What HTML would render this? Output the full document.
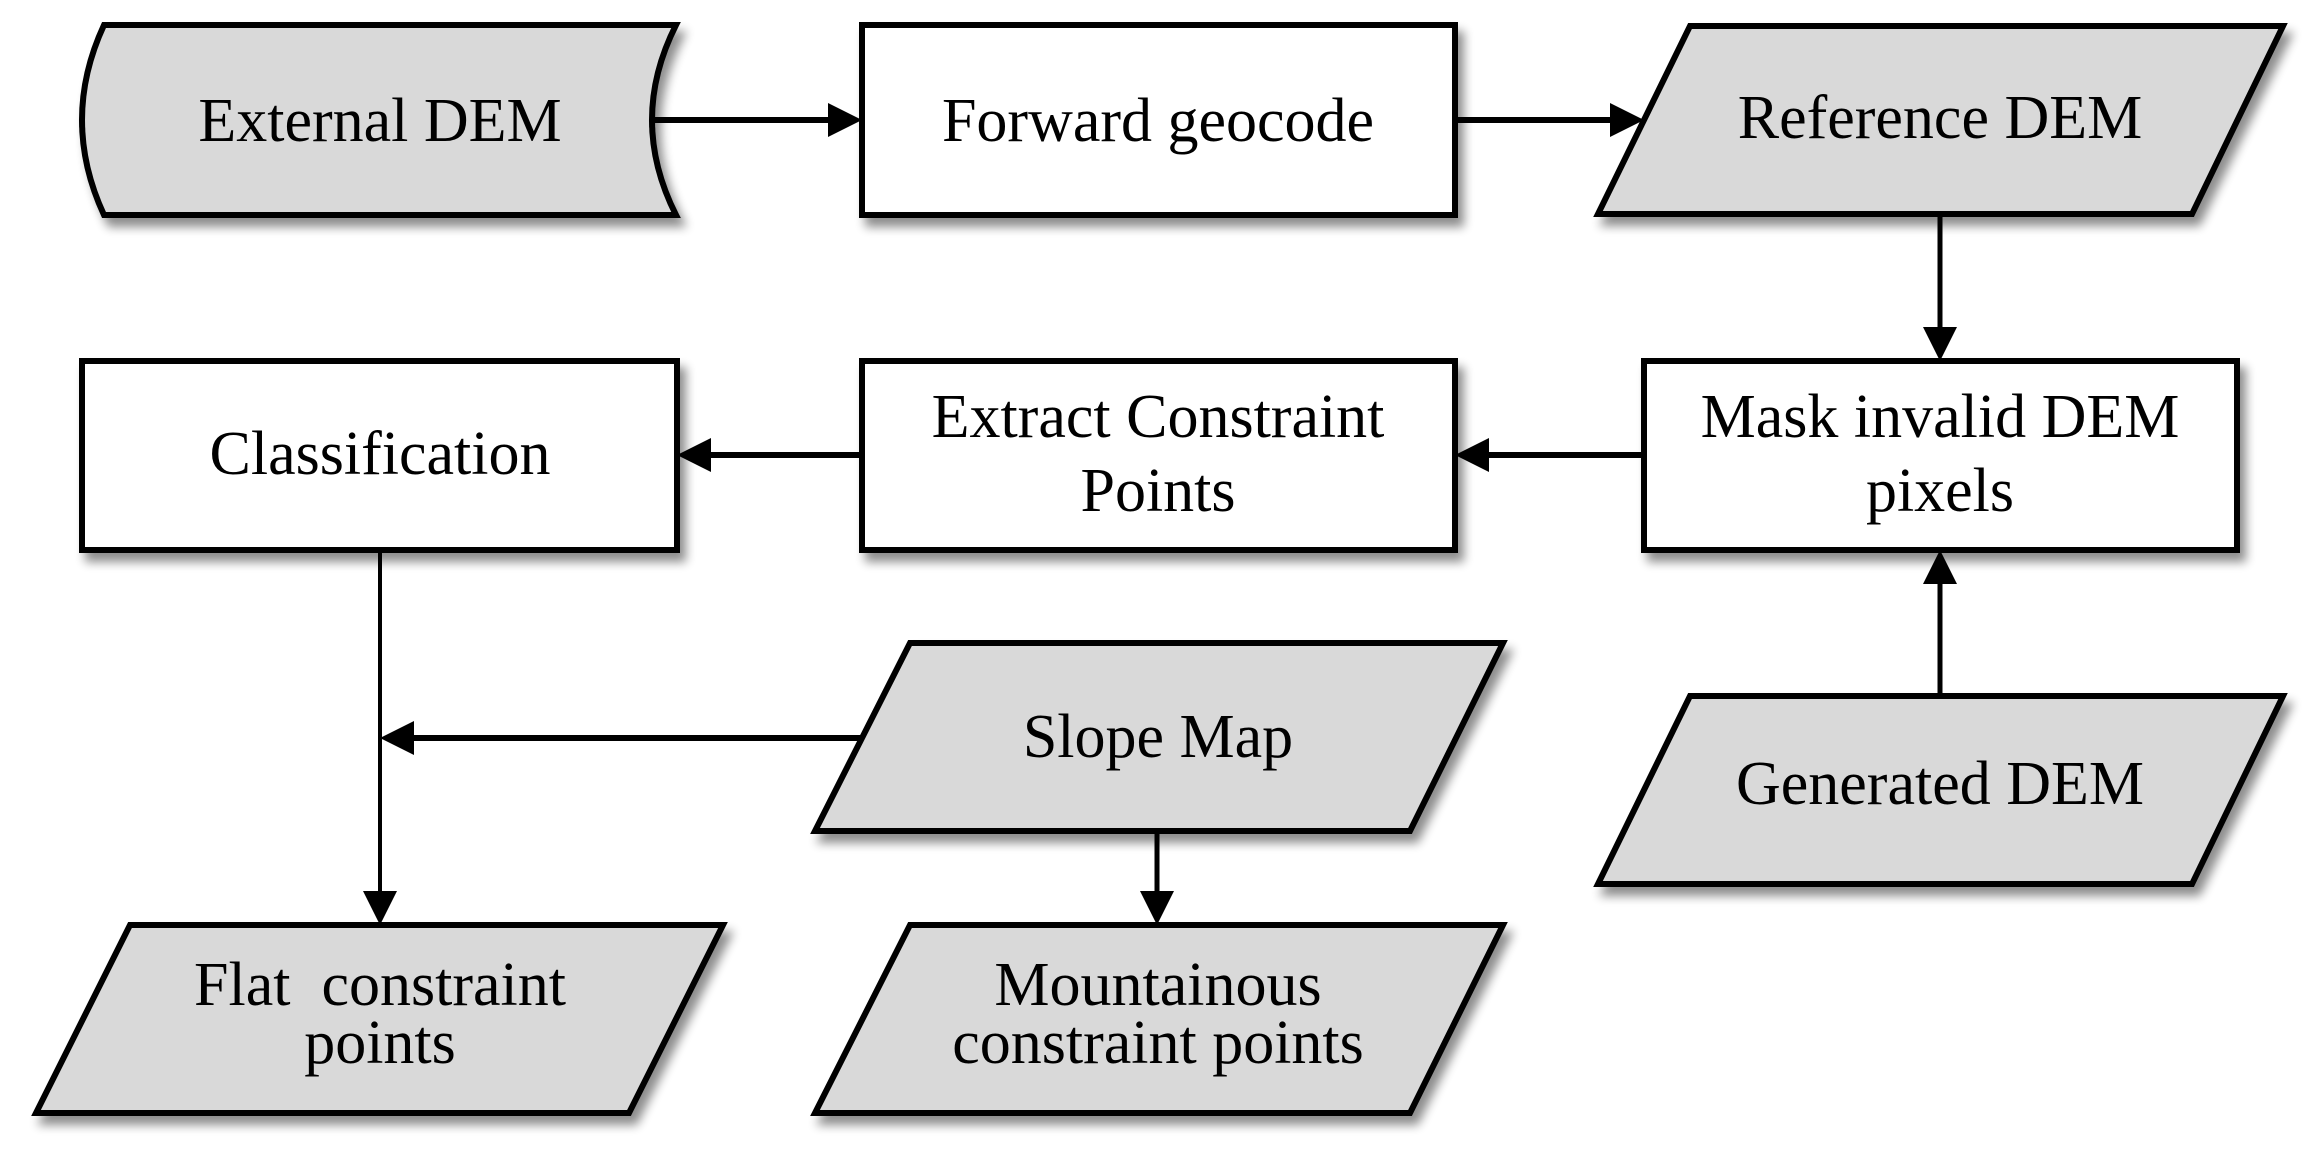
<!DOCTYPE html>
<html><head><meta charset="utf-8"><style>html,body{margin:0;padding:0;background:#fff}svg{display:block}</style></head><body>
<svg width="2324" height="1155" viewBox="0 0 2324 1155" xmlns="http://www.w3.org/2000/svg">
<defs>
<filter id="sh" x="-10%" y="-10%" width="130%" height="140%"><feGaussianBlur in="SourceAlpha" stdDeviation="5"/><feOffset dx="6" dy="9"/><feComponentTransfer><feFuncA type="linear" slope="0.45"/></feComponentTransfer><feMerge><feMergeNode/><feMergeNode in="SourceGraphic"/></feMerge></filter>
</defs>
<g stroke="#000" stroke-width="6" stroke-linejoin="miter" filter="url(#sh)">
<path d="M104,25 L676,25 Q628,120 676,215 L104,215 Q60,120 104,25 Z" fill="#d9d9d9"/>
<rect x="862" y="25" width="593" height="190" fill="#fff"/>
<path d="M1690,26 L2283,26 L2192,214 L1598,214 Z" fill="#d9d9d9"/>
<rect x="82" y="361" width="595" height="189" fill="#fff"/>
<rect x="862" y="361" width="593" height="189" fill="#fff"/>
<rect x="1644" y="361" width="593" height="189" fill="#fff"/>
<path d="M910,643 L1503,643 L1410,831 L815,831 Z" fill="#d9d9d9"/>
<path d="M1690,696 L2283,696 L2192,884 L1598,884 Z" fill="#d9d9d9"/>
<path d="M130,925 L723,925 L629,1113 L36,1113 Z" fill="#d9d9d9"/>
<path d="M910,925 L1503,925 L1410,1113 L815,1113 Z" fill="#d9d9d9"/>
</g>
<g stroke="#000" fill="none">
<line x1="652" y1="120" x2="830" y2="120" stroke-width="6"/>
<line x1="1455" y1="120" x2="1612" y2="120" stroke-width="6"/>
<line x1="1940" y1="214" x2="1940" y2="328" stroke-width="5"/>
<line x1="1644" y1="455" x2="1488" y2="455" stroke-width="6"/>
<line x1="862" y1="455" x2="710" y2="455" stroke-width="6"/>
<line x1="1940" y1="696" x2="1940" y2="582" stroke-width="5"/>
<line x1="380" y1="550" x2="380" y2="893" stroke-width="4"/>
<line x1="862" y1="738" x2="412" y2="738" stroke-width="6"/>
<line x1="1157" y1="831" x2="1157" y2="893" stroke-width="5"/>
</g>
<g fill="#000">
<path d="M862,120 L828,103 L828,137 Z"/>
<path d="M1644,120 L1610,103 L1610,137 Z"/>
<path d="M1940,361 L1923,327 L1957,327 Z"/>
<path d="M1455,455 L1489,438 L1489,472 Z"/>
<path d="M677,455 L711,438 L711,472 Z"/>
<path d="M1940,550 L1923,584 L1957,584 Z"/>
<path d="M380,925 L363,891 L397,891 Z"/>
<path d="M380,738 L414,721 L414,755 Z"/>
<path d="M1157,925 L1140,891 L1174,891 Z"/>
</g>
<g font-family="'Liberation Serif', serif" font-size="62" text-anchor="middle" fill="#000">
<text x="380" y="141">External DEM</text>
<text x="1158" y="141">Forward geocode</text>
<text x="1940" y="138">Reference DEM</text>
<text x="380" y="474">Classification</text>
<text x="1158" y="437">Extract Constraint</text>
<text x="1158" y="511">Points</text>
<text x="1940" y="437">Mask invalid DEM</text>
<text x="1940" y="511">pixels</text>
<text x="1158" y="757">Slope Map</text>
<text x="1940" y="804">Generated DEM</text>
<text x="380" y="1005">Flat&#160; constraint</text>
<text x="380" y="1063">points</text>
<text x="1158" y="1005">Mountainous</text>
<text x="1158" y="1063">constraint points</text>
</g>
</svg>
</body></html>
